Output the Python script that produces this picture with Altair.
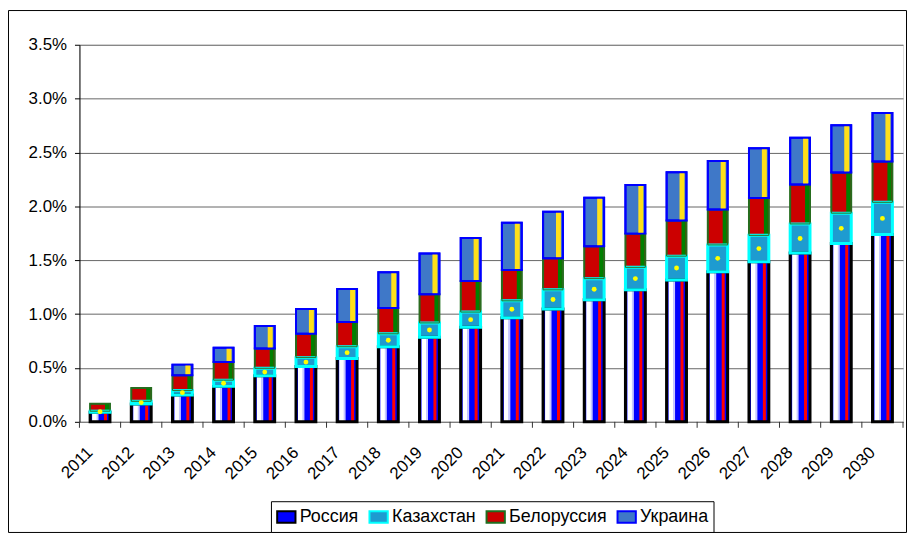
import altair as alt
import pandas as pd

years = [str(y) for y in range(2011, 2031)]
countries = ["Россия", "Казахстан", "Белоруссия", "Украина"]
russia = [0.089, 0.166, 0.249, 0.329, 0.427, 0.513, 0.587, 0.697, 0.786, 0.878,
          0.967, 1.047, 1.133, 1.225, 1.317, 1.393, 1.485, 1.567, 1.655, 1.738]
kazakhstan = [0.010, 0.025, 0.043, 0.058, 0.070, 0.083, 0.110, 0.120, 0.132, 0.141,
              0.156, 0.178, 0.196, 0.209, 0.221, 0.249, 0.246, 0.270, 0.282, 0.300]
belarus = [0.068, 0.123, 0.141, 0.169, 0.184, 0.221, 0.230, 0.239, 0.267, 0.289,
           0.286, 0.294, 0.301, 0.313, 0.331, 0.328, 0.347, 0.366, 0.377, 0.378]
ukraine = [0.0, 0.0, 0.098, 0.132, 0.209, 0.230, 0.307, 0.332, 0.378, 0.398,
           0.439, 0.430, 0.451, 0.451, 0.448, 0.452, 0.461, 0.433, 0.439, 0.451]
y_ticks = [0.0, 0.005, 0.010, 0.015, 0.020, 0.025, 0.030, 0.035]

series = [russia, kazakhstan, belarus, ukraine]
rows = []
for i, yr in enumerate(years):
    base = 0.0
    for c, vals in zip(countries, series):
        v = vals[i] / 100.0
        rows.append({"year": yr, "country": c, "bottom": base, "top": base + v,
                     "mid": base + v / 2, "order": countries.index(c)})
        base += v
df = pd.DataFrame(rows)
df = df[df["top"] > df["bottom"]]
ydf = pd.DataFrame({"year": years})

FONT = "Liberation Sans"
W, H = 830, 380

fill_range = ["#0000FF", "#1E9BD0", "#CC0000", "#3F78C8"]
stroke_range = ["#000000", "#00FFFF", "#1F6E1F", "#0000FF"]

xenc = alt.X("year:O", sort=years,
             scale=alt.Scale(paddingInner=0.5, paddingOuter=0.25),
             axis=alt.Axis(title=None, labelAngle=-45, labelAlign="right", labelBaseline="middle",
                           ticks=False, labelPadding=28, labelOffset=-10, domainColor="#808080",
                           labelFont=FONT, labelFontSize=17, labelColor="black"))
yenc = alt.Y("top:Q", scale=alt.Scale(domain=[0, 0.035], nice=False),
             axis=alt.Axis(title=None, values=y_ticks, format=".1%", grid=True,
                           gridColor="#666666", domainColor="black", tickColor="black",
                           tickSize=5, labelPadding=8, labelFont=FONT, labelFontSize=17,
                           labelColor="black"))

leg = alt.Legend(title=None, orient="none", legendX=193, legendY=460, direction="horizontal",
                 symbolType="M-1,-0.62H1V0.62H-1Z", symbolSize=340, symbolStrokeWidth=2,
                 labelFont=FONT, labelFontSize=18, labelColor="black", labelOffset=3,
                 columnPadding=6, padding=5, strokeColor="black", fillColor="white",
                 symbolOpacity=1, labelLimit=0)

base = alt.Chart(df)

border = alt.Chart(ydf.head(1)).mark_rect(fill="transparent", stroke="black", strokeWidth=1).encode(
    x=alt.value(-71.5), x2=alt.value(833.5), y=alt.value(-34.5), y2=alt.value(491.5))

bars = base.mark_bar(width=20, strokeWidth=2).encode(
    x=xenc, y=yenc, y2="bottom:Q",
    fill=alt.Fill("country:N", sort=countries,
                  scale=alt.Scale(domain=countries, range=fill_range), legend=leg),
    stroke=alt.Stroke("country:N", sort=countries,
                      scale=alt.Scale(domain=countries, range=stroke_range), legend=leg),
    order=alt.Order("order:Q"))


def stripe(country, color, width, offset):
    return base.transform_filter(alt.datum.country == country).mark_bar(
        width=width, xOffset=offset, color=color).encode(
        x=alt.X("year:O", sort=years), y="top:Q", y2="bottom:Q")


def outline(country, color, sw):
    return base.transform_filter(alt.datum.country == country).mark_bar(
        width=20, fill="transparent", stroke=color, strokeWidth=sw).encode(
        x=alt.X("year:O", sort=years), y="top:Q", y2="bottom:Q")


stripes = [
    stripe("Россия", "#FFFFFF", 5, -5.5),
    stripe("Россия", "#C8C8FF", 2, -2.5),
    stripe("Россия", "#FF0000", 3, 5.5),
    stripe("Белоруссия", "#008000", 4, 7),
    stripe("Украина", "#FFE01A", 5, 5.5),
]
outlines = [
    outline("Россия", "#000000", 3),
    outline("Казахстан", "#00FFFF", 3),
    outline("Белоруссия", "#2E6B1E", 1),
    outline("Украина", "#0000FF", 2),
]

dots = base.transform_filter(alt.datum.country == "Казахстан").mark_circle(
    size=24, color="#FFFF00", opacity=1).encode(
    x=alt.X("year:O", sort=years), y="mid:Q")

ticks = alt.Chart(ydf).mark_rule(color="#333333", xOffset=-20.75).encode(
    x=alt.X("year:O", sort=years), y=alt.value(380), y2=alt.value(386))
last_tick = alt.Chart(ydf.head(1)).mark_rule(color="#333333").encode(
    x=alt.value(W), y=alt.value(380), y2=alt.value(386))

chart = alt.layer(bars, *stripes, *outlines, dots, ticks, last_tick, border).properties(
    width=W, height=H,
    autosize=alt.AutoSizeParams(type="none"),
    padding={"left": 72, "top": 35, "right": 4, "bottom": 112},
).configure_view(stroke="transparent").configure(background="white")

chart.save("out.html", embed_options={"renderer": "svg", "actions": False})
